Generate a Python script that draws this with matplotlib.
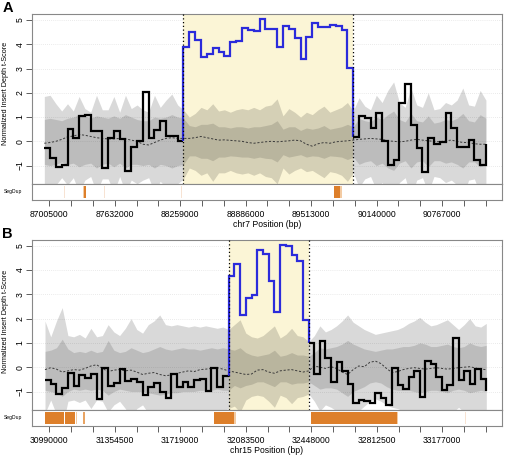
import numpy as np
import matplotlib
matplotlib.use("Agg")
import matplotlib.pyplot as plt
from matplotlib.ticker import FixedLocator

plt.rcParams['font.family'] = ['Liberation Sans', 'DejaVu Sans']

# ---------------- Panel A data (chr7) ----------------
a_chrom_label = "chr7 Position (bp)"
a_region = [86957000, 88290000, 89917000, 91188000]   # start, call start, call end, end
a_nbins = [24, 29, 23]                                 # bins in left flank, call, right flank
a_xlim = [86839000, 91342000]
a_tick_start, a_tick_step, a_tick_n = 87005000, 209000, 21
a_tscore = [
    -0.26, -0.67, -1.06, -0.96, 0.52, 0.15, 1.04, 1.08, 0.44, 0.44, -1.11, 0.15,
    0.41, 0.08, -1.22, -0.24, 0.0, 2.05, 0.15, 0.45, 0.83, 0.22, 0.22, 0.02,
    3.87, 4.49, 4.17, 3.49, 3.60, 3.83, 3.70, 3.50, 4.10, 4.15, 4.67, 4.59, 4.53,
    5.04, 4.64, 4.64, 3.90, 4.74, 4.62, 4.26, 3.40, 4.32, 4.86, 4.71, 4.72, 4.80,
    4.74, 4.59, 3.03,
    0.19, 1.05, 0.95, 0.55, 1.16, 0.0, -0.97, -0.79, 1.56, 2.38, 0.68, -0.27,
    -1.25, 0.12, -0.13, -0.03, 1.16, 0.53, -0.22, -0.22, 0.06, -0.75, -0.96,
    -0.13]
a_median = [
    -0.08, -0.05, 0.0, 0.08, 0.18, 0.22, 0.28, 0.25, 0.2, 0.15, 0.12, 0.1, 0.1,
    0.12, 0.1, 0.05, 0.0, -0.12, -0.15, -0.05, 0.05, 0.12, 0.15, 0.12, 0.12,
    0.12, 0.15, 0.2, 0.15, 0.1, 0.05, 0.06, 0.04, 0.02, 0.0, -0.05, -0.08, -0.05,
    -0.02, 0.0, -0.02, 0.0, 0.02, 0.05, 0.02, -0.12, -0.2, -0.1, -0.05, -0.08,
    -0.02, 0.0, 0.02, 0.05,
    0.08, 0.1, 0.12, 0.1, 0.08, 0.02, 0.0, -0.02, 0.0, 0.05, 0.08, 0.05, 0.02,
    0.0, -0.02, 0.02, 0.05, 0.0, -0.05, -0.05, -0.1, -0.12, -0.12]
a_outer_hi = [
    1.85, 1.9, 1.55, 1.25, 1.55, 1.25, 1.85, 1.35, 1.2, 1.9, 1.3, 1.3, 1.85, 1.2,
    1.9, 1.35, 1.5, 1.3, 1.2, 1.9, 1.4, 1.7, 1.95, 1.5, 1.3,
    1.0, 1.15, 1.4, 1.3, 1.55, 1.25, 1.3, 1.2, 1.3, 1.35, 1.3, 1.4, 1.3, 1.45,
    1.5, 1.75, 1.05, 1.35, 1.2, 1.0, 1.2, 1.1, 1.3, 1.45, 1.2, 1.3, 1.4, 1.6, 1.25,
    1.8, 1.45, 1.3, 1.9, 1.6, 2.1, 2.45, 1.6, 1.4, 2.2, 1.5, 1.4, 2.0, 1.3, 1.35,
    1.6, 1.5, 1.7, 2.2, 1.5, 1.45, 2.1, 1.7]
a_outer_lo = [
    -2.0, -2.1, -1.8, -1.5, -1.8, -1.5, -2.1, -1.6, -1.45, -2.1, -1.55, -1.55,
    -2.1, -1.45, -2.1, -1.6, -1.75, -1.6, -1.5, -2.1, -1.65, -1.9, -2.15, -1.75,
    -1.55,
    -1.1, -1.2, -1.4, -1.3, -1.65, -1.3, -1.3, -1.2, -1.3, -1.35, -1.3, -1.4,
    -1.3, -1.45, -1.5, -1.75, -1.1, -1.35, -1.2, -1.1, -1.25, -1.2, -1.35, -1.5,
    -1.25, -1.3, -1.4, -1.65, -1.3,
    -1.9, -1.55, -1.45, -2.0, -1.7, -2.2, -2.5, -1.7, -1.5, -2.3, -1.6, -1.5,
    -2.1, -1.45, -1.5, -1.7, -1.6, -1.8, -2.3, -1.6, -1.55, -2.2, -1.8]
a_inner_hi = [
    0.9, 0.95, 0.9, 0.85, 0.95, 1.0, 1.1, 1.05, 0.95, 1.05, 1.0, 0.95, 1.05,
    0.95, 1.1, 1.0, 0.9, 0.85, 0.85, 1.0, 0.95, 1.0, 1.1, 1.0, 0.95,
    0.65, 0.6, 0.7, 0.7, 0.75, 0.6, 0.6, 0.55, 0.6, 0.6, 0.55, 0.6, 0.6, 0.65,
    0.7, 0.85, 0.5, 0.6, 0.6, 0.45, 0.55, 0.5, 0.55, 0.65, 0.5, 0.55, 0.6, 0.7, 0.6,
    0.95, 0.85, 0.8, 1.0, 0.9, 1.1, 1.25, 0.9, 0.8, 1.15, 0.85, 0.8, 1.05, 0.75,
    0.8, 0.9, 0.85, 0.95, 1.15, 0.85, 0.8, 1.1, 0.95]
a_inner_lo = [
    -0.95, -1.0, -0.95, -0.85, -0.95, -0.9, -1.05, -0.95, -0.9, -1.1, -0.95,
    -0.9, -1.05, -0.9, -1.1, -0.95, -0.95, -1.0, -0.95, -1.1, -0.95, -1.0, -1.1,
    -1.0, -0.95,
    -0.6, -0.6, -0.7, -0.7, -0.8, -0.65, -0.65, -0.6, -0.62, -0.65, -0.65, -0.7,
    -0.65, -0.7, -0.72, -0.85, -0.55, -0.65, -0.6, -0.55, -0.65, -0.6, -0.62,
    -0.7, -0.6, -0.62, -0.65, -0.75, -0.65,
    -0.95, -0.85, -0.8, -1.0, -0.9, -1.1, -1.2, -0.9, -0.8, -1.1, -0.85, -0.8,
    -1.05, -0.8, -0.8, -0.9, -0.85, -0.95, -1.1, -0.85, -0.85, -1.05, -0.95]
a_segdup_start = [87144000, 87330000, 87340000, 87525000, 88263000, 89728000, 89735000, 89790000, 90140000]
a_segdup_end   = [87153000, 87340000, 87360000, 87534000, 88272000, 89735000, 89790000, 89806000, 90149000]
a_segdup_level = ["faint", "light", "dark", "faint", "faint", "light", "dark", "light", "faint"]

# ---------------- Panel B data (chr15) ----------------
b_chrom_label = "chr15 Position (bp)"
b_region = [30966000, 31988000, 32434000, 33422000]
b_nbins = [32, 14, 32]
b_xlim = [30893700, 33509300]
b_tick_start, b_tick_step, b_tick_n = 30990000, 121500, 21
b_tscore = [
    -0.52, -0.70, -1.10, -0.86, -0.22, -0.77, -0.32, -0.45, -0.28, -1.32, -0.02,
    -0.76, -0.66, -0.07, -0.55, -0.48, -0.59, -1.14, -0.82, -0.65, -1.0, -1.25,
    -0.28, -0.80, -0.59, -0.82, -0.52, -0.48, -0.96, -0.02, -0.82, -0.35,
    3.77, 4.25, 2.16, 2.85, 2.96, 4.80, 4.66, 3.56, 2.28, 5.04, 4.97, 4.63, 4.38, 1.94,
    0.99, -0.28, 1.08, 0.37, -0.59, 0.22, -0.15, -0.70, -1.47, -1.33, -1.40,
    -1.47, -1.06, -1.25, -1.54, -0.05, -0.72, -0.88, -0.40, -0.15, -1.24, 0.25,
    0.15, -0.40, -0.94, -0.73, 1.19, -0.52, -0.14, -0.70, -0.08, -0.48,
    -0.97]
b_median = [
    -0.1, -0.02, -0.08, -0.2, -0.15, -0.1, -0.12, -0.05, 0.05, 0.1, -0.05, -0.18,
    -0.12, -0.1, -0.15, -0.12, -0.2, -0.3, -0.25, -0.22, -0.3, -0.35, -0.32,
    -0.25, -0.2, -0.15, -0.18, -0.1, -0.08, -0.05, -0.02, -0.08, -0.15,
    -0.2, -0.25, -0.3, -0.28, -0.12, -0.1, -0.2, -0.25, -0.15, -0.12, -0.1, -0.15,
    -0.2, -0.15,
    0.05, 0.0, -0.05, 0.02, -0.05, -0.2, -0.3, -0.1, 0.05, 0.02, 0.2, 0.25, 0.15,
    -0.05, -0.22, -0.18, -0.1, -0.05, -0.02, -0.05, -0.08, -0.05, -0.02, -0.05,
    -0.08, -0.05, -0.02, 0.0, 0.02, -0.03, -0.08, -0.1]
b_outer_hi = [
    1.9, 1.25, 1.9, 2.45, 1.3, 1.25, 1.35, 1.2, 1.6, 1.25, 1.3, 1.75, 1.45, 1.3,
    1.6, 2.0, 1.55, 1.4, 1.75, 1.9, 2.15, 1.75, 1.7, 1.75, 1.7, 1.65, 1.7, 1.65,
    1.7, 1.65, 1.6, 1.65, 1.55,
    1.75, 1.95, 1.4, 1.25, 1.2, 1.3, 1.5, 1.7, 1.2, 1.35, 1.6, 1.3, 1.25, 1.05,
    1.3, 1.7, 1.45, 1.55, 1.7, 1.9, 2.15, 1.85, 1.7, 1.55, 1.45, 1.35, 1.4, 1.45,
    1.5, 1.55, 1.65, 1.8, 1.9, 2.05, 1.85, 1.7, 1.75, 1.85, 1.95, 1.75, 1.55,
    1.75, 2.0, 1.7, 1.65, 1.8]
b_outer_lo = [
    -1.9, -1.35, -1.95, -2.5, -1.4, -1.35, -1.45, -1.35, -1.7, -1.35, -1.4,
    -1.85, -1.55, -1.4, -1.7, -2.1, -1.7, -1.55, -1.9, -2.0, -2.3, -1.9, -1.85,
    -1.9, -1.85, -1.8, -1.85, -1.8, -1.85, -1.8, -1.75, -1.8, -1.7,
    -1.6, -1.85, -1.35, -1.2, -1.15, -1.2, -1.4, -1.65, -1.15, -1.25, -1.5, -1.25,
    -1.2, -1.1,
    -1.4, -1.8, -1.55, -1.65, -1.8, -2.0, -2.3, -1.95, -1.8, -1.6, -1.4, -1.3,
    -1.4, -1.55, -1.65, -1.7, -1.8, -1.9, -2.0, -2.15, -1.95, -1.8, -1.85, -1.95,
    -2.05, -1.85, -1.65, -1.85, -2.1, -1.8, -1.75, -1.9]
b_inner_hi = [
    0.65, 0.7, 0.8, 1.15, 0.75, 0.6, 0.65, 0.6, 0.7, 0.6, 0.65, 1.1, 0.7, 0.6,
    0.65, 0.8, 0.7, 0.6, 0.65, 0.75, 0.85, 0.75, 0.7, 0.75, 0.8, 0.75, 0.75, 0.7,
    0.75, 0.8, 0.75, 0.8, 0.75,
    0.7, 0.8, 0.6, 0.5, 0.45, 0.5, 0.55, 0.7, 0.45, 0.5, 0.6, 0.5, 0.5, 0.45,
    0.6, 0.8, 0.75, 0.8, 0.85, 0.95, 1.1, 0.95, 0.85, 0.75, 0.7, 0.65, 0.7, 0.75,
    0.75, 0.8, 0.85, 0.85, 0.9, 1.0, 0.95, 0.85, 0.85, 0.9, 0.95, 0.85, 0.8,
    0.85, 1.0, 0.9, 0.85, 0.9]
b_inner_lo = [
    -0.95, -1.0, -1.05, -1.2, -1.0, -0.9, -0.95, -0.9, -0.95, -0.9, -0.95, -1.15,
    -1.0, -0.9, -0.95, -1.0, -1.0, -1.0, -1.05, -1.1, -1.15, -1.1, -1.05, -1.05,
    -1.0, -1.0, -1.0, -0.95, -0.95, -0.95, -0.9, -0.95, -0.95,
    -0.75, -0.85, -0.75, -0.7, -0.6, -0.6, -0.7, -0.8, -0.6, -0.6, -0.7, -0.65,
    -0.65, -0.6,
    -0.75, -0.9, -0.85, -0.85, -0.9, -1.05, -1.2, -1.0, -0.9, -0.8, -0.65, -0.6,
    -0.65, -0.8, -0.9, -0.95, -0.95, -0.95, -1.0, -1.05, -1.0, -0.95, -0.95,
    -1.0, -1.05, -0.95, -0.9, -0.95, -1.05, -1.0, -0.95, -1.0]
b_segdup_start = [30966000, 31075500, 31138000, 31179000, 31908000, 32019500, 32055000, 32446000, 32926000, 33304000]
b_segdup_end   = [31072000, 31133000, 31146000, 31190000, 32019500, 32029000, 32059000, 32926000, 32933000, 33310000]
b_segdup_level = ["dark", "dark", "light", "medium", "dark", "light", "medium", "dark", "light", "faint"]

# ---------------- styling ----------------
W, H = 506, 458
BLUE = '#2B2BDB'
YELLOW = '#FBF5D6'
SEG_COLORS = {"dark": '#DD7F2A', "medium": '#E9A463', "light": '#F3CBA3', "faint": '#F7E3D3'}
FRAME = '#888888'
FS = 6.2

fig = plt.figure(figsize=(W / 100, H / 100), dpi=100)


def rect(left, top, right, bottom):
    return [left / W, 1 - bottom / H, (right - left) / W, (bottom - top) / H]


def panel(top, letter, region, nbins, xlim, ylim, tscore, median, o_lo, o_hi,
          i_lo, i_hi, tick_start, tick_step, tick_n, seg_s, seg_e, seg_l, xlabel,
          ylabel_center):
    main_bottom = top + 170
    ax = fig.add_axes(rect(32, top, 502, main_bottom))
    sax = fig.add_axes(rect(32, main_bottom, 502, main_bottom + 16))

    edges = np.concatenate([
        np.linspace(region[0], region[1], nbins[0] + 1)[:-1],
        np.linspace(region[1], region[2], nbins[1] + 1)[:-1],
        np.linspace(region[2], region[3], nbins[2] + 1)])
    y = np.asarray(tscore, dtype=float)
    nl, nc = nbins[0], nbins[1]

    # grid + highlight
    for g in range(-1, 6):
        ax.axhline(g, color='#E3E3E3', lw=0.6, ls=(0, (1, 1.5)), zorder=0)
    ax.axvspan(region[1], region[2], color=YELLOW, lw=0, zorder=0.5)

    # null bands
    ax.fill_between(edges, o_lo, o_hi, color='black', alpha=0.15, lw=0, zorder=1)
    ax.fill_between(edges, i_lo, i_hi, color='black', alpha=0.13, lw=0, zorder=1.1)
    ax.plot(edges, median, color='#3a3a3a', lw=0.7, ls=(0, (2.2, 1.8)), zorder=1.5)

    kw = dict(drawstyle='steps-post', lw=1.6, solid_joinstyle='miter',
              solid_capstyle='butt', zorder=3)
    ax.plot(edges[:nl + 1], np.append(y[:nl], y[nl - 1]), color='black', **kw)
    ax.plot(np.concatenate([[edges[nl]], edges[nl:nl + nc + 1]]),
            np.concatenate([[y[nl - 1]], y[nl:nl + nc + 1]]), color=BLUE, **kw)
    ax.plot(edges[nl + nc:], y[nl + nc:], color='black', **kw)

    for xv in (region[1], region[2]):
        ax.axvline(xv, color='black', lw=0.9, ls=(0, (1, 2)), zorder=4)

    ax.set_xlim(xlim)
    ax.set_ylim(ylim)
    ax.set_xticks([])
    ax.set_yticks(range(-1, 6))
    ax.tick_params(axis='y', direction='out', length=4, width=0.6, color='#444444',
                   labelsize=FS, pad=1.5, labelrotation=90)
    for lab in ax.get_yticklabels():
        lab.set_va('center')
    for s in ax.spines.values():
        s.set_color(FRAME)
        s.set_linewidth(0.8)

    # segdup track
    for s0, s1, lv in zip(seg_s, seg_e, seg_l):
        sax.axvspan(s0, s1, ymin=0.12, ymax=0.88, color=SEG_COLORS[lv], lw=0)
    sax.set_xlim(xlim)
    sax.set_ylim(0, 1)
    sax.set_yticks([])
    ticks = [tick_start + k * tick_step for k in range(tick_n)]
    sax.xaxis.set_major_locator(FixedLocator(ticks[::3]))
    sax.xaxis.set_minor_locator(FixedLocator([t for i, t in enumerate(ticks) if i % 3]))
    sax.set_xticklabels([str(t) for t in ticks[::3]])
    sax.tick_params(axis='x', which='both', direction='out', length=4, width=0.6,
                    color='#444444', labelsize=FS, pad=3.2)
    for s in sax.spines.values():
        s.set_color(FRAME)
        s.set_linewidth(0.8)
    sax.set_xlabel(xlabel, fontsize=FS, labelpad=1.0)

    fig.text(3.3 / W, 1 - (main_bottom + 8) / H, "SegDup", fontsize=3.6,
             ha='left', va='center')
    fig.text(5.5 / W, 1 - ylabel_center / H, "Normalized Insert Depth t-Score",
             fontsize=5.2, rotation=90, ha='center', va='center')
    fig.text(2.5 / W, 1 - (top - 13) / H, letter, fontsize=10.5, fontweight='bold',
             ha='left', va='top')


panel(14, "A", a_region, a_nbins, a_xlim, (-1.76, 5.25), a_tscore, a_median,
      a_outer_lo, a_outer_hi, a_inner_lo, a_inner_hi, a_tick_start, a_tick_step,
      a_tick_n, a_segdup_start, a_segdup_end, a_segdup_level, a_chrom_label, 93.5)
panel(240, "B", b_region, b_nbins, b_xlim, (-1.76, 5.23), b_tscore, b_median,
      b_outer_lo, b_outer_hi, b_inner_lo, b_inner_hi, b_tick_start, b_tick_step,
      b_tick_n, b_segdup_start, b_segdup_end, b_segdup_level, b_chrom_label, 321.5)

fig.savefig("out.png", dpi=100, facecolor='white')
